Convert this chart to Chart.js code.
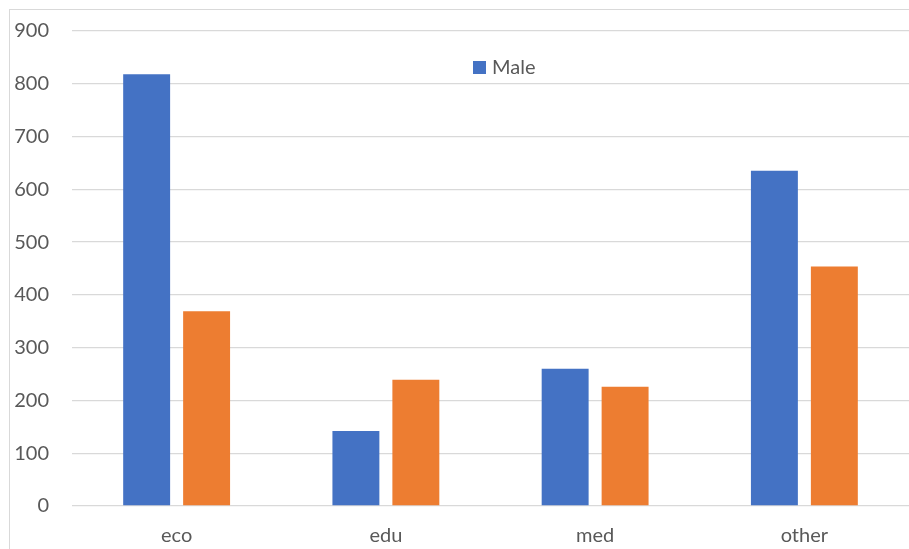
<!DOCTYPE html>
<html>
<head>
<meta charset="utf-8">
<script src="https://cdn.jsdelivr.net/npm/chart.js@4.4.1/dist/chart.umd.min.js"></script>
<style>
    html, body { margin: 0; padding: 0; background: #fff; overflow: hidden; }
    #wrap { position: relative; width: 909px; height: 549px; }
    #frame { position: absolute; left: 9px; top: 9px; width: 940px; height: 580px; border: 1px solid #d9d9d9; }
    canvas { position: absolute; left: 0; top: 0; }
</style>
</head>
<body>
<div id="wrap">
    <div id="frame"></div>
    <canvas id="chart" width="909" height="549"></canvas>
</div>
<script>
// data
const categories = ["eco", "edu", "med", "other"];
const male = [818, 142, 260, 635];
const female = [369, 239, 226, 454];
const yTicks = [0, 100, 200, 300, 400, 500, 600, 700, 800, 900];

const textColor = "#595959";
const fontFamily = "Lato, 'Noto Sans', sans-serif";

// legend drawn inside the plot, only the first series shows (as in the picture)
const innerLegend = {
    id: "innerLegend",
    afterDraw(chart) {
        const ctx = chart.ctx;
        const ds = chart.data.datasets[0];
        ctx.save();
        ctx.fillStyle = ds.backgroundColor;
        ctx.fillRect(473, 61, 13, 13);
        ctx.fillStyle = textColor;
        ctx.font = "20px " + fontFamily;
        ctx.textBaseline = "middle";
        ctx.textAlign = "left";
        ctx.fillText(ds.label, 492, 68);
        ctx.restore();
    }
};

new Chart(document.getElementById("chart").getContext("2d"), {
    type: "bar",
    data: {
        labels: categories,
        datasets: [
            { label: "Male", data: male, backgroundColor: "#4472c4" },
            { label: "Female", data: female, backgroundColor: "#ed7d31" }
        ]
    },
    options: {
        responsive: false,
        animation: false,
        devicePixelRatio: 1,
        layout: { padding: { top: 31, left: 0, right: 0, bottom: 0 } },
        categoryPercentage: 0.573,
        barPercentage: 0.783,
        plugins: {
            legend: { display: false },
            tooltip: { enabled: false }
        },
        scales: {
            x: {
                grid: { display: false },
                border: { display: false },
                ticks: {
                    color: textColor,
                    font: { family: fontFamily, size: 20 },
                    padding: 10,
                    maxRotation: 0
                },
                afterFit(scale) { scale.height = 43; }
            },
            y: {
                min: 0,
                max: 900,
                afterBuildTicks(scale) { scale.ticks = yTicks.map(v => ({ value: v })); },
                grid: { color: "#d9d9d9", lineWidth: 1.3, drawTicks: false },
                border: { display: false },
                ticks: {
                    color: textColor,
                    font: { family: fontFamily, size: 20 },
                    padding: 23
                },
                afterFit(scale) {
                    scale.width = 72;
                    scale.paddingTop = 0;
                    scale.paddingBottom = 0;
                }
            }
        }
    },
    plugins: [innerLegend]
});
</script>
</body>
</html>
